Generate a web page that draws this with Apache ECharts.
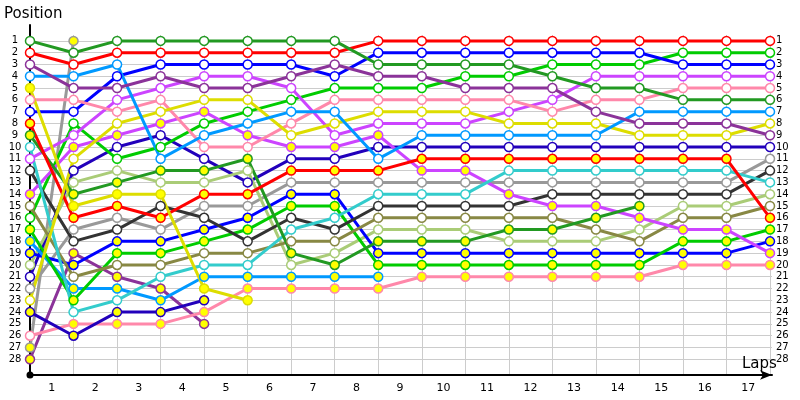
<!DOCTYPE html>
<html><head><meta charset="utf-8">
<script src="https://cdn.jsdelivr.net/npm/echarts@6/dist/echarts.min.js"></script>
<style>html,body{margin:0;padding:0;background:#fff}#c{width:800px;height:400px}</style>
</head><body><div id="c"></div>
<script>
// Tick labels
const lapLabels = ['1','2','3','4','5','6','7','8','9','10','11','12','13','14','15','16','17'];
const lapTicks = [0,1,2,3,4,5,6,7,8,9,10,11,12,13,14,15,16,17];
const posTicks = [1,2,3,4,5,6,7,8,9,10,11,12,13,14,15,16,17,18,19,20,21,22,23,24,25,26,27,28];

// Positions per car, lap 0..n
const carA = [1,2,1,1,1,1,1,1,3,3,3,3,4,5,5,6,6,6];
const carB = [2,3,2,2,2,2,2,2,1,1,1,1,1,1,1,1,1,1];
const carC = [3,5,5,4,5,5,4,3,4,4,5,5,5,7,8,8,8,9];
const carD = [4,4,3,11,9,8,7,7,11,9,9,9,9,9,7,7,7,7];
const carE = [5,15,14,14,22,23];
const carF = [23,11,8,7,6,6,9,8,7,7,7,8,8,8,9,9,9,8];
const carG = [6,6,7,6,10,10,8,6,6,6,6,6,7,6,6,5,5,5];
const carH = [7,7,4,3,3,3,3,4,2,2,2,2,2,2,2,3,3,3];
const carI = [8,16,15,16,14,14,12,12,12,11,11,11,11,11,11,11,11,16];
const carJ = [9,14,13,12,12,11,19,20,18,18,18,17,17,16,15];
const carK = [10,24,23,21,20,20,17,16,14,14,14,12,12,12,12,12,12,13];
const carL = [11,9,6,5,4,4,5,9,8,8,8,7,6,4,4,4,4,4];
const carM = [14,10,9,8,7,9,10,10,9,12,12,14,15,15,16,17,17,19];
const carN = [12,18,17,15,16,18,16,17,15,15,15,15,14,14,14,14,14,12];
const carO = [15,21,20,20,19,19,18,18,16,16,16,16,16,17,18,16,16,15];
const carP = [16,8,11,10,8,7,6,5,5,5,4,4,3,3,3,2,2,2];
const carQ = [17,23,19,19,18,17,15,15,20,20,20,20,20,20,20,18,18,17];
const carR = [18,22,22,23,21,21,21,21,21];
const carS = [19,20,18,18,17,16,14,14,19,19,19,19,19,19,19,19,19,18];
const carT = [20,13,12,13,13,12,20,19,17,17,17,18,18,18,17,15,15,14];
const carU = [21,12,10,9,11,13,11,11,10,10,10,10,10,10,10,10,10,10];
const carV = [22,17,16,17,15,15,13,13,13,13,13,13,13,13,13,13,13,11];
const carW = [24,26,24,24,23];
const carX = [26,25,25,25,24,22,22,22,22,21,21,21,21,21,21,20,20,20];
const carY = [27,1];
const carZ = [28,19,21,22,25];

// first lap index from which markers are yellow (-1 = never)
const cars = [
  {pos: carZ, color: '#8B3399', yellowFrom: 0},
  {pos: carY, color: '#999999', yellowFrom: 0},
  {pos: carX, color: '#FF88AA', yellowFrom: 1},
  {pos: carW, color: '#2200BB', yellowFrom: 0},
  {pos: carV, color: '#999999', yellowFrom: -1},
  {pos: carU, color: '#2200BB', yellowFrom: -1},
  {pos: carT, color: '#AACC77', yellowFrom: -1},
  {pos: carS, color: '#0000FF', yellowFrom: 0},
  {pos: carR, color: '#0099FF', yellowFrom: 0},
  {pos: carQ, color: '#00CC00', yellowFrom: 0},
  {pos: carP, color: '#00CC00', yellowFrom: -1},
  {pos: carO, color: '#888844', yellowFrom: -1},
  {pos: carN, color: '#333333', yellowFrom: -1},
  {pos: carM, color: '#CC44FF', yellowFrom: 0},
  {pos: carL, color: '#CC44FF', yellowFrom: -1},
  {pos: carK, color: '#33CCCC', yellowFrom: -1},
  {pos: carJ, color: '#229922', yellowFrom: 0},
  {pos: carI, color: '#FF0000', yellowFrom: 0},
  {pos: carH, color: '#0000FF', yellowFrom: -1},
  {pos: carG, color: '#FF88AA', yellowFrom: -1},
  {pos: carF, color: '#DDDD00', yellowFrom: -1},
  {pos: carE, color: '#DDDD00', yellowFrom: 0},
  {pos: carD, color: '#0099FF', yellowFrom: -1},
  {pos: carC, color: '#8B3399', yellowFrom: -1},
  {pos: carB, color: '#FF0000', yellowFrom: -1},
  {pos: carA, color: '#229922', yellowFrom: -1}
];

const FONT = 'DejaVu Sans';
const series = cars.map(c => ({
  type: 'line',
  xAxisIndex: 0, yAxisIndex: 0,
  symbol: 'circle', symbolSize: 9,
  lineStyle: {color: c.color, width: 3},
  itemStyle: {borderColor: c.color, borderWidth: 1.5, color: '#fff'},
  emphasis: {disabled: true},
  animation: false,
  data: c.pos.map((p, i) => ({
    value: [i, p],
    itemStyle: {color: (c.yellowFrom >= 0 && i >= c.yellowFrom) ? '#FFFF00' : '#FFFFFF', borderColor: c.color, borderWidth: 1.5}
  }))
}));

const chart = echarts.init(document.getElementById('c'), null, {renderer: 'canvas'});
chart.setOption({
  animation: false,
  backgroundColor: '#fff',
  title: [
    {text: 'Position', left: 4, top: 7, padding: 0, textStyle: {fontFamily: FONT, fontSize: 15, fontWeight: 'normal', color: '#000'}},
    {text: 'Laps', left: 742, top: 357, padding: 0, textStyle: {fontFamily: FONT, fontSize: 15, fontWeight: 'normal', color: '#000'}}
  ],
  grid: [
    {left: 30, top: 35, width: 742, height: 340},
    {left: 30, top: 25, width: 742, height: 350}
  ],
  xAxis: [
    {
      type: 'value', gridIndex: 0, min: 0, max: 17.046,
      axisLine: {show: true, lineStyle: {color: '#000', width: 2}, symbol: ['circle', 'arrow'], symbolSize: [7, 12]},
      axisTick: {show: false, customValues: lapTicks},
      splitLine: {show: true, lineStyle: {color: '#cccccc', width: 1}},
      axisLabel: {
        customValues: lapTicks.slice(0, lapLabels.length).map(v => v + 0.5),
        formatter: v => lapLabels[Math.floor(v)],
        fontFamily: FONT, fontSize: 11, color: '#000', margin: 8
      }
    },
    {type: 'value', gridIndex: 1, min: 0, max: 1, show: false}
  ],
  yAxis: [
    {
      type: 'value', gridIndex: 0, inverse: true, min: 0.5, max: 29.333, position: 'left',
      axisLine: {show: false},
      axisTick: {show: false, customValues: posTicks},
      splitLine: {show: true, lineStyle: {color: '#cccccc', width: 1}},
      axisLabel: {customValues: posTicks, fontFamily: FONT, fontSize: 10, color: '#000', align: 'center', margin: 15}
    },
    {
      type: 'value', gridIndex: 0, inverse: true, min: 0.5, max: 29.333, position: 'right',
      axisLine: {show: false},
      axisTick: {show: false, customValues: posTicks},
      splitLine: {show: false},
      axisLabel: {customValues: posTicks, fontFamily: FONT, fontSize: 10, color: '#000', align: 'left', margin: 4}
    },
    {
      type: 'value', gridIndex: 1, inverse: true, min: 0, max: 1,
      axisLine: {show: true, lineStyle: {color: '#000', width: 2}, symbol: ['circle', 'none'], symbolSize: [5, 5]},
      axisTick: {show: false}, axisLabel: {show: false}, splitLine: {show: false}
    }
  ],
  series: series
});
</script>
</body></html>
